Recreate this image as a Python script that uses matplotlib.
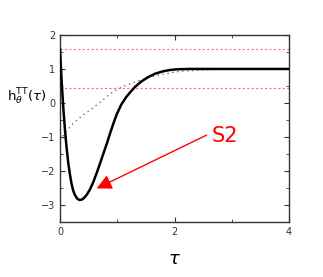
import numpy as np
import matplotlib
matplotlib.use("Agg")
import matplotlib.pyplot as plt
from matplotlib.ticker import MultipleLocator

# solid curve h_theta^TT(tau)
tau_solid = [0.0, 0.03, 0.06, 0.087, 0.115, 0.145, 0.175, 0.20, 0.23, 0.26,
             0.30, 0.34, 0.38, 0.42, 0.47, 0.52, 0.58, 0.64, 0.70, 0.76,
             0.82, 0.87, 0.93, 0.99, 1.07, 1.16, 1.24, 1.31, 1.42, 1.54,
             1.66, 1.80, 1.92, 2.05, 2.27, 2.6, 3.0, 3.5, 4.0]
h_solid = [1.58, 0.60, -0.20, -0.80, -1.32, -1.78, -2.12, -2.37, -2.58, -2.71,
           -2.82, -2.86, -2.85, -2.80, -2.70, -2.56, -2.34, -2.07, -1.78, -1.48,
           -1.19, -0.92, -0.62, -0.34, -0.05, 0.18, 0.34, 0.47, 0.63, 0.76,
           0.86, 0.93, 0.97, 0.99, 1.0, 1.0, 1.0, 1.0, 1.0]

# dotted curve
tau_dot = [0.05, 0.10, 0.20, 0.30, 0.40, 0.55, 0.70, 0.87, 1.00, 1.10, 1.25,
           1.40, 1.60, 1.75, 1.95, 2.10, 2.30, 2.50, 2.85, 3.20, 3.60, 4.00]
h_dot = [-0.98, -0.86, -0.66, -0.50, -0.36, -0.18, 0.02, 0.26, 0.40, 0.48,
         0.58, 0.67, 0.77, 0.83, 0.89, 0.93, 0.95, 0.97, 0.99, 1.0, 1.0, 1.0]

ref_levels = [1.58, 0.44]

arrow_tip = (0.64, -2.52)
arrow_tail = (2.56, -0.95)
label_pos = (2.65, -0.98)

fig = plt.figure(figsize=(3.23, 2.77), dpi=100)
ax = fig.add_axes([60 / 323, 1 - 221.7 / 277, 229 / 323, 186.7 / 277])

for lv in ref_levels:
    ax.axhline(lv, color='#ff7070', lw=0.8, ls=(0, (2, 2)), zorder=1)

ax.plot(tau_dot, h_dot, color='#555555', lw=0.9, ls=(0, (1, 3)), zorder=2)
ax.plot(tau_solid, h_solid, color='black', lw=1.8, zorder=3)

ax.annotate('', xy=arrow_tip, xytext=arrow_tail,
            arrowprops=dict(arrowstyle='-|>,head_length=0.9,head_width=0.45',
                            color='red', lw=1.0, shrinkA=0, shrinkB=0))
ax.text(label_pos[0], label_pos[1], 'S2', color='red', fontsize=15,
        ha='left', va='center')

ax.set_xlim(0, 4)
ax.set_ylim(-3.5, 2)
ax.xaxis.set_major_locator(MultipleLocator(2))
ax.xaxis.set_minor_locator(MultipleLocator(1))
ax.yaxis.set_major_locator(MultipleLocator(1))
ax.yaxis.set_minor_locator(MultipleLocator(0.5))
ax.tick_params(which='both', direction='in', top=True, right=True,
               labelsize=7, labelcolor='#333333', color='#333333')
ax.tick_params(which='major', length=3.5, width=0.8)
ax.tick_params(which='minor', length=2, width=0.6)
for sp in ax.spines.values():
    sp.set_linewidth(1.0)
    sp.set_color('#333333')

ax.set_xlabel(r'$\tau$', fontsize=13, labelpad=10)
ax.set_ylabel(r'$\mathregular{h}_{\theta}^{\mathregular{TT}}(\tau)$',
              fontsize=9.5, rotation=0, va='center', ha='right')
ax.yaxis.set_label_coords(-0.06, 0.67)

fig.savefig('out.png', dpi=100)
